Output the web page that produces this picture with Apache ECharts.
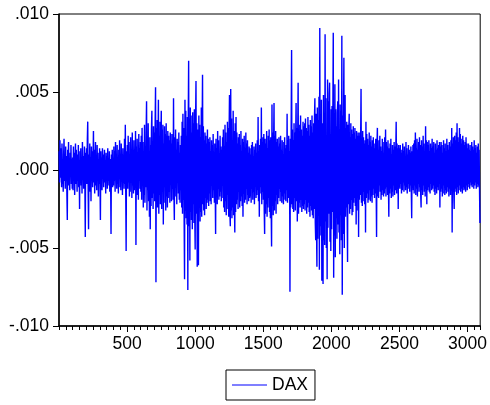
<!DOCTYPE html>
<html>
<head>
<meta charset="utf-8">
<script src="https://cdn.jsdelivr.net/npm/echarts@6/dist/echarts.min.js"></script>
<style>
  html, body { margin: 0; padding: 0; background: #fff; }
  #chart { width: 490px; height: 405px; }
</style>
</head>
<body>
<div id="chart"></div>
<script>
// DAX returns, in basis points (1 bp = 0.0001), one value per 3 observations
const seriesName = 'DAX';
const obsFirst = 1;
const obsStep = 3;
const obsMax = 3093;
const daxBp = [
  12,-8,19,-5,14,3,-11,17,-9,6,-14,10,20,-7,2,-12,15,-4,9,-15,-32,13,-6,18,-10,4,-13,11,-3,16,-9,7,-12,
  8,-13,15,-6,11,-16,4,17,-9,13,-2,-14,10,-7,16,-11,5,-25,12,-4,14,-10,7,-15,18,-6,9,-12,3,15,-8,-43,11,-5,
  14,-9,19,31,-12,-38,10,-6,17,-14,8,-20,15,-3,12,-11,6,25,-8,13,-15,4,18,-10,9,-13,16,-5,11,-17,7,-9,14,
  -6,-32,12,-9,8,-13,14,-4,10,-11,3,13,-8,6,-15,11,-2,9,-12,14,-7,5,-10,12,-14,7,-5,-41,10,-8,13,-11,6,
  -10,15,-7,12,-14,18,-5,9,-12,16,-9,4,-15,13,-6,19,-11,8,-13,17,-4,10,-16,14,-8,6,-12,20,-9,29,-14,-52,12,-7,
  16,-12,22,-8,18,-17,9,-14,21,-6,13,-18,24,-10,7,-15,19,-13,11,-9,25,-48,15,-11,20,-16,8,-19,23,-7,14,-12,18,
  -14,22,-19,27,-9,18,-24,12,-16,29,-21,15,-11,24,44,-26,17,-13,30,-20,10,-30,21,-38,16,-23,26,38,-18,13,-25,28,-15,
  24,-20,30,53,-72,27,-18,32,-24,14,45,-28,21,-16,31,-22,19,38,-25,26,-13,29,-35,17,-21,28,-10,23,-26,30,-17,22,-24,25,
  -18,22,-14,19,-21,24,-9,17,-20,23,-12,15,-19,46,-16,-32,21,-11,26,-17,13,-22,20,-8,18,-15,24,-19,11,-21,16,-13,22,
  -24,31,-28,36,-19,27,-33,-70,45,-26,38,-31,22,-35,34,-77,29,70,-36,33,-58,40,-27,35,-32,24,-38,37,-22,30,-34,39,-29,
  -51,33,57,-28,30,-62,26,-31,-61,35,-24,29,-33,21,-27,40,-30,25,61,-22,28,-26,19,-29,24,-18,22,-25,17,-21,26,-19,20,-23,
  18,-15,21,-20,12,-22,19,-9,16,-18,23,-13,10,-21,17,-11,-41,20,-16,14,-22,25,-12,19,-19,8,-17,22,-14,15,-20,13,-10,
  21,-18,26,-24,15,-27,29,-20,24,-29,18,-25,31,-16,27,-30,22,48,-28,-36,52,-26,33,-31,19,-24,38,-29,25,-21,-40,30,-27,
  34,-22,24,-19,17,-25,21,-14,23,-24,16,-20,25,-17,12,-23,20,-30,18,-15,22,-21,14,-19,24,-12,17,-22,19,-16,11,-20,15,-18,
  14,-17,10,-21,16,-12,18,-19,9,-14,15,-22,13,-8,17,-18,11,-16,19,-13,34,-20,12,-30,16,-15,20,-11,40,-22,18,-14,21,
  -19,23,-26,-41,20,-28,17,-22,25,-30,14,-24,22,-18,26,-27,19,-31,21,-25,-49,42,-23,24,-29,16,43,-26,22,-20,25,-28,18,
  -16,20,-22,15,-18,21,-12,17,-20,22,-14,13,-21,19,-17,10,-22,18,-15,21,-19,14,-20,16,-13,36,-21,19,-18,22,-16,12,-78,20,
  -24,28,77,-22,26,-25,19,-27,30,-18,24,-26,21,43,-20,27,-33,23,56,-28,25,-21,29,-24,35,-19,26,-27,22,-23,31,-25,28,
  -22,30,-26,33,-19,27,-28,25,-24,34,-21,29,-27,22,-30,32,-23,28,-26,35,-29,24,-31,30,-25,33,46,-34,-45,36,-38,-62,40,
  -44,32,-18,47,-64,91,-36,25,-42,45,-71,30,-15,-73,48,-45,21,-48,87,-33,46,-50,12,-70,58,-37,44,-28,49,56,-46,23,-52,39,
  -38,41,-27,36,88,-69,33,-42,55,-56,39,-31,28,-44,37,44,-35,58,-40,26,-54,42,-29,38,-45,86,-80,35,-41,31,72,-50,40,
  48,-30,27,-24,31,-26,-59,29,-22,25,36,-28,21,-25,30,-19,26,-29,23,-27,28,-21,24,-18,27,-23,20,-35,25,-26,22,-17,24,
  -43,22,-19,24,-16,20,52,-21,18,-23,25,-14,21,-20,17,-22,19,-40,31,-18,23,-15,20,-21,16,-19,24,-13,18,-20,22,-17,15,-21,
  19,-16,21,-12,17,-18,14,-15,20,-11,-43,16,27,-17,13,-18,19,-10,22,-14,15,-19,12,-16,20,-13,18,-17,11,-15,21,-12,26,
  -17,18,-11,15,-16,19,-9,-30,14,-15,17,-12,20,-18,10,-14,16,-17,13,-10,18,-16,15,-13,11,31,-15,17,-12,14,-25,16,-11,
  14,-12,16,-9,13,-15,11,-13,17,-8,12,-14,15,-10,9,-13,18,-11,14,-15,10,-12,16,-9,13,-14,11,-10,15,-13,-31,12,-11,16,
  -13,17,-15,19,-10,24,-16,14,-12,20,-17,13,-9,18,-14,21,-11,16,-15,-24,19,-13,15,-16,22,-10,17,-14,12,-17,28,-12,19,
  -22,18,-13,16,-11,19,-14,12,-15,17,-9,14,-13,20,-12,15,-10,18,-14,11,-16,17,-12,13,-15,19,-11,14,-13,16,-9,18,-24,
  15,-14,18,-12,16,-17,11,-15,19,-10,14,-16,17,-13,12,-15,20,-11,16,-14,13,-17,18,-12,15,-16,19,-13,27,-40,17,-14,21,-15,
  -25,22,-14,19,-12,24,-16,30,-11,21,-15,18,-13,27,-10,23,-14,20,-12,17,-15,22,-11,19,-13,16,-12,18,-14,21,-10,17,-13,
  14,-11,17,-9,13,-12,16,-8,12,-10,18,-11,15,-9,13,-12,19,-10,14,-8,16,-12,11,-9,15,-11,17,-10,13,-12,-34
];

const FONT = 'Arial, "Liberation Sans", sans-serif';
const LABEL_SIZE = 17.5;

// y values are in basis points; labels are shown as decimals (.005, -.010 ...)
function bpLabel(v) {
  return (v / 10000).toFixed(3).replace('0.', '.');
}

const points = daxBp.map((v, i) => [obsFirst + i * obsStep, v]);

const chart = echarts.init(document.getElementById('chart'), null, { renderer: 'canvas' });
chart.setOption({
  animation: false,
  backgroundColor: '#fff',
  grid: {
    left: 59, right: 7, top: 14, bottom: 79,
    show: true, borderColor: '#000', borderWidth: 1, backgroundColor: 'transparent'
  },
  legend: {
    data: [seriesName],
    left: 226, top: 370,
    orient: 'horizontal',
    icon: 'rect',
    itemWidth: 35, itemHeight: 1,
    padding: [6, 7, 6, 6],
    borderColor: '#000', borderWidth: 1,
    textStyle: { fontFamily: FONT, fontSize: LABEL_SIZE, color: '#000', lineHeight: 17 }
  },
  xAxis: [
    {
      type: 'value',
      position: 'bottom',
      min: 0, max: obsMax, interval: 500,
      axisLine: { onZero: false, lineStyle: { color: '#000', width: 1.5 } },
      axisTick: { inside: false, length: 6, lineStyle: { color: '#000', width: 1 } },
      axisLabel: {
        showMinLabel: false, showMaxLabel: false, margin: 9,
        formatter: (v) => String(v),
        fontFamily: FONT, fontSize: LABEL_SIZE, color: '#000'
      },
      splitLine: { show: false }
    },
    {
      // minor ticks every 50 observations
      type: 'value',
      position: 'bottom',
      min: 0, max: obsMax, interval: 50,
      axisLine: { show: false, onZero: false },
      axisTick: { inside: false, length: 4, lineStyle: { color: '#000', width: 1 } },
      axisLabel: { show: false },
      splitLine: { show: false }
    }
  ],
  yAxis: {
    type: 'value',
    min: -100, max: 100, interval: 50,
    axisLine: { show: true, onZero: false, lineStyle: { color: '#000', width: 1.5 } },
    axisTick: { show: true, inside: false, length: 6, lineStyle: { color: '#000', width: 1 } },
    axisLabel: {
      formatter: bpLabel, margin: 10,
      fontFamily: FONT, fontSize: LABEL_SIZE, color: '#000'
    },
    splitLine: { show: false }
  },
  series: [{
    name: seriesName,
    type: 'line',
    xAxisIndex: 0,
    data: points,
    showSymbol: false,
    symbol: 'none',
    sampling: null,
    lineStyle: { color: '#0000ff', width: 1.4 },
    itemStyle: { color: '#0000ff' },
    emphasis: { disabled: true }
  }]
});
</script>
</body>
</html>
